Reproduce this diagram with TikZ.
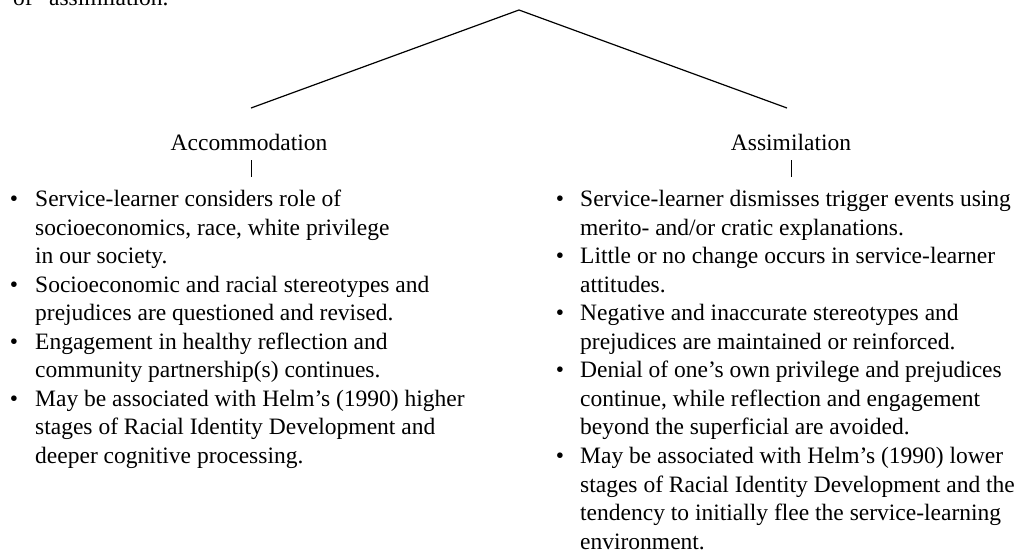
\documentclass[tikz,border=0pt]{standalone}
\usepackage{fontspec}
\setmainfont{Liberation Serif}
\begin{document}
\begin{tikzpicture}[x=1pt,y=-1pt,
  txt/.style={inner sep=0pt, font=\fontsize{23.5}{28.55}\selectfont},
  % multi-line nodes are placed by the baseline of their last line
  body/.style={txt, anchor=base west, align=left},
  head/.style={txt, anchor=base},
  dot/.style={txt, anchor=base},
  branch/.style={line width=1.2pt},
  tick/.style={line width=1pt}]
\useasboundingbox (0,0) rectangle (1021,550);

% tail of the running text above the figure
\node[body] (lead) at (13,5) {of “assimilation.”};

% the branching lines
\coordinate (apex) at (519,10);
\coordinate (lend) at (251,108);
\coordinate (rend) at (787,108);
\draw[branch] (lend) -- (apex) -- (rend);

% branch headings with their short stems
\node[head] (acc) at (249,150) {Accommodation};
\node[head] (ass) at (791,150) {Assimilation};
\coordinate (accT) at (251,160);
\coordinate (accB) at (251,177);
\coordinate (assT) at (791,160);
\coordinate (assB) at (791,177);
\draw[tick] (accT) -- (accB);
\draw[tick] (assT) -- (assB);

% accommodation outcomes
\node[dot] (lb1) at (14,206.5) {•};
\node[body] (l1) at (35,263.6) {Service-learner considers role of\\socioeconomics, race, white privilege\\in our society.};
\node[dot] (lb2) at (14,292.15) {•};
\node[body] (l2) at (35,320.7) {Socioeconomic and racial stereotypes and\\prejudices are questioned and revised.};
\node[dot] (lb3) at (14,349.25) {•};
\node[body] (l3) at (35,377.8) {Engagement in healthy reflection and\\community partnership(s) continues.};
\node[dot] (lb4) at (14,406.35) {•};
\node[body] (l4) at (35,463.45) {May be associated with Helm’s (1990) higher\\stages of Racial Identity Development and\\deeper cognitive processing.};

% assimilation outcomes
\node[dot] (rb1) at (560,206.5) {•};
\node[body] (r1) at (580,235.05) {Service-learner dismisses trigger events using\\merito- and/or cratic explanations.};
\node[dot] (rb2) at (560,263.6) {•};
\node[body] (r2) at (580,292.15) {Little or no change occurs in service-learner\\attitudes.};
\node[dot] (rb3) at (560,320.7) {•};
\node[body] (r3) at (580,349.25) {Negative and inaccurate stereotypes and\\prejudices are maintained or reinforced.};
\node[dot] (rb4) at (560,377.8) {•};
\node[body] (r4) at (580,434.9) {Denial of one’s own privilege and prejudices\\continue, while reflection and engagement\\beyond the superficial are avoided.};
\node[dot] (rb5) at (560,463.45) {•};
\node[body] (r5) at (580,549.1) {May be associated with Helm’s (1990) lower\\stages of Racial Identity Development and the\\tendency to initially flee the service-learning\\environment.};
\end{tikzpicture}
\end{document}
